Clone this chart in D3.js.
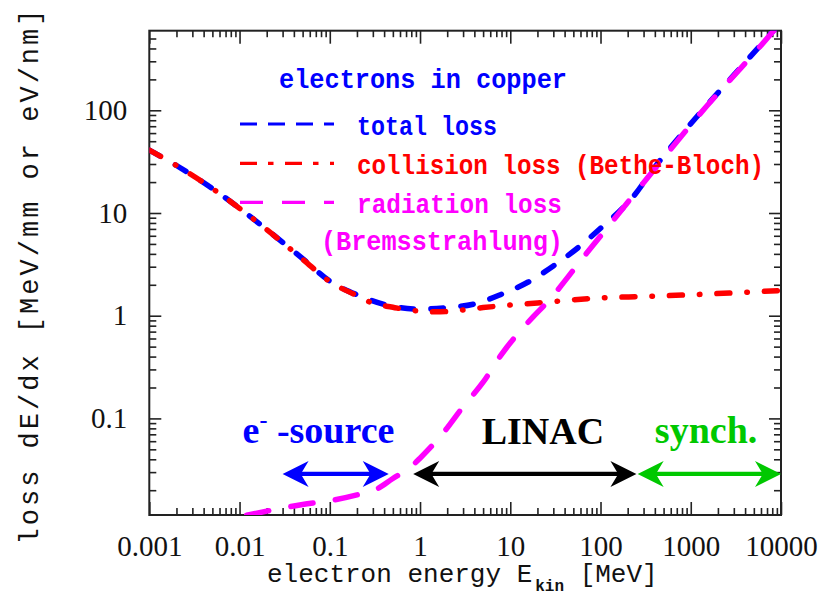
<!DOCTYPE html>
<html>
<head>
<meta charset="utf-8">
<script src="https://cdn.jsdelivr.net/npm/d3@7/dist/d3.min.js"></script>
<style>
  html, body { margin: 0; padding: 0; background: #fff; }
  svg { display: block; }
</style>
</head>
<body>
<svg id="chart" width="819" height="596"></svg>
<script>
// ---------------- data ----------------
const energyTotal = [0.001, 0.002, 0.005, 0.01, 0.02, 0.05, 0.1, 0.2, 0.5, 1, 2, 4, 8, 16, 30, 60, 100, 230, 400, 1000, 3000, 10000];
const lossTotal   = [41, 29, 17.3, 11.1, 6.9, 3.6, 2.17, 1.6, 1.23, 1.16, 1.2, 1.3, 1.62, 2.14, 3.05, 4.8, 7.1, 14.4, 28, 74, 220, 720];

const energyCollision = [0.001, 0.002, 0.005, 0.01, 0.02, 0.05, 0.1, 0.2, 0.3, 0.5, 0.71, 1, 1.5, 2, 5, 10, 20, 50, 100, 300, 1000, 3000, 10000];
const lossCollision   = [41, 29, 17.3, 11.1, 6.9, 3.55, 2.15, 1.57, 1.32, 1.21, 1.14, 1.11, 1.09, 1.1, 1.2, 1.27, 1.33, 1.43, 1.49, 1.54, 1.6, 1.67, 1.76];

const energyRadiation = [0.012, 0.02, 0.05, 0.1, 0.2, 0.33, 0.5, 0.77, 1, 1.8, 3, 5, 8, 18, 25, 70, 137, 400, 1250, 5800, 10000];
const lossRadiation   = [0.0114, 0.0125, 0.0145, 0.0158, 0.018, 0.0205, 0.026, 0.033, 0.041, 0.072, 0.13, 0.225, 0.42, 0.98, 1.32, 4.05, 8.4, 27, 91, 414, 720];

const xTickValues = [0.001, 0.01, 0.1, 1, 10, 100, 1000, 10000];
const xTickLabels = ["0.001", "0.01", "0.1", "1", "10", "100", "1000", "10000"];
const yTickValues = [0.1, 1, 10, 100];
const yTickLabels = ["0.1", "1", "10", "100"];

const legendLabels = ["total loss", "collision loss (Bethe-Bloch)", "radiation loss"];
const legendTitle = "electrons in copper";
const legendExtra = "(Bremsstrahlung)";

// accelerator ranges (energy in MeV) and level of arrows (MeV/mm)
const rangeNames  = ["source", "LINAC", "synch."];
const rangeStart  = [0.03, 0.84, 258];
const rangeEnd    = [0.45, 250, 10000];
const arrowLevel  = 0.0288;
const rangeLabelE = [0.0108, 23, 400];   // label anchor energies
const rangeLabelV = [0.058, 0.056, 0.057]; // label baseline levels

// ---------------- layout ----------------
const svg = d3.select("#chart");
const X0 = 149.3, X1 = 781, Y0 = 30.7, Y1 = 515;

const x = d3.scaleLog().domain([0.001, 10000]).range([X0, X1]);
const y = d3.scaleLog().domain([0.01147, 595.7]).range([Y1, Y0]);

const blue = "#0000ff", red = "#ff0000", magenta = "#ff00ff", green = "#00c800";

// clip
svg.append("defs").append("clipPath").attr("id", "plotclip")
  .append("rect").attr("x", X0).attr("y", Y0).attr("width", X1 - X0).attr("height", Y1 - Y0);

// ---------------- axes ----------------
const xMinor = [];
for (let d = -3; d < 4; d++) for (let m = 2; m <= 9; m++) xMinor.push(m * Math.pow(10, d));
const yMinor = [];
for (let d = -2; d < 3; d++) for (let m = 2; m <= 9; m++) {
  const v = m * Math.pow(10, d);
  if (v > 0.01147 && v < 595.7) yMinor.push(v);
}

const axisColor = "#222";
function styleAxis(g) {
  g.select(".domain").remove();
  g.selectAll(".tick line").attr("stroke", axisColor).attr("stroke-width", 1.6);
}

// bottom
svg.append("g").attr("transform", `translate(0,${Y1})`)
  .call(d3.axisBottom(x).tickValues(xMinor).tickSizeInner(-7).tickSizeOuter(0).tickFormat(""))
  .call(styleAxis);
const xb = svg.append("g").attr("transform", `translate(0,${Y1})`)
  .call(d3.axisBottom(x).tickValues(xTickValues).tickSizeInner(-13).tickSizeOuter(0).tickPadding(20)
    .tickFormat((d, i) => xTickLabels[i]))
  .call(styleAxis);
xb.selectAll("text").attr("font-family", "'Liberation Serif', 'DejaVu Serif', serif")
  .attr("font-size", 29).attr("fill", "#111");

// top
svg.append("g").attr("transform", `translate(0,${Y0})`)
  .call(d3.axisTop(x).tickValues(xMinor).tickSizeInner(-6.5).tickSizeOuter(0).tickFormat(""))
  .call(styleAxis);
svg.append("g").attr("transform", `translate(0,${Y0})`)
  .call(d3.axisTop(x).tickValues(xTickValues).tickSizeInner(-13).tickSizeOuter(0).tickFormat(""))
  .call(styleAxis);

// left
svg.append("g").attr("transform", `translate(${X0},0)`)
  .call(d3.axisLeft(y).tickValues(yMinor).tickSizeInner(-7).tickSizeOuter(0).tickFormat(""))
  .call(styleAxis);
const yl = svg.append("g").attr("transform", `translate(${X0},0)`)
  .call(d3.axisLeft(y).tickValues(yTickValues).tickSizeInner(-12).tickSizeOuter(0).tickPadding(22)
    .tickFormat((d, i) => yTickLabels[i]))
  .call(styleAxis);
yl.selectAll("text").attr("font-family", "'Liberation Serif', 'DejaVu Serif', serif")
  .attr("font-size", 29).attr("fill", "#111");

// right
svg.append("g").attr("transform", `translate(${X1},0)`)
  .call(d3.axisRight(y).tickValues(yMinor).tickSizeInner(-7).tickSizeOuter(0).tickFormat(""))
  .call(styleAxis);
svg.append("g").attr("transform", `translate(${X1},0)`)
  .call(d3.axisRight(y).tickValues(yTickValues).tickSizeInner(-12).tickSizeOuter(0).tickFormat(""))
  .call(styleAxis);

// frame
svg.append("rect").attr("x", X0).attr("y", Y0).attr("width", X1 - X0).attr("height", Y1 - Y0)
  .attr("fill", "none").attr("stroke", axisColor).attr("stroke-width", 2);

// ---------------- axis titles ----------------
const mono = "'Liberation Mono', 'DejaVu Sans Mono', monospace";
const xt = svg.append("text").attr("x", 267).attr("y", 582)
  .attr("font-family", mono).attr("font-size", 26).attr("fill", "#111");
xt.append("tspan").text("electron energy E");
xt.append("tspan").attr("dy", 9).attr("dx", 3).attr("font-size", 16).attr("font-weight", "bold").text("kin");
xt.append("tspan").attr("dy", -9).text(" [MeV]");

svg.append("text")
  .attr("transform", "translate(38,277) rotate(-90)")
  .attr("text-anchor", "middle")
  .attr("font-family", mono).attr("font-size", 27).attr("fill", "#111")
  .attr("textLength", 535).attr("lengthAdjust", "spacing")
  .text("loss dE/dx [MeV/mm or eV/nm]");

// ---------------- curves ----------------
const line = d3.line().x(d => x(d[0])).y(d => y(d[1])).curve(d3.curveMonotoneX);
const plot = svg.append("g").attr("clip-path", "url(#plotclip)");

function zip(a, b) { return a.map((v, i) => [v, b[i]]); }

plot.append("path").datum(zip(energyTotal, lossTotal))
  .attr("d", line).attr("fill", "none").attr("stroke", blue).attr("stroke-width", 5.5)
  .attr("stroke-linecap", "round").attr("stroke-dasharray", "12.5 17.5");
plot.append("path").datum(zip(energyCollision, lossCollision))
  .attr("d", line).attr("fill", "none").attr("stroke", red).attr("stroke-width", 5.5)
  .attr("stroke-linecap", "round").attr("stroke-dasharray", "13 17 0.5 17");
plot.append("path").datum(zip(energyRadiation, lossRadiation))
  .attr("d", line).attr("fill", "none").attr("stroke", magenta).attr("stroke-width", 5.5)
  .attr("stroke-linecap", "round").attr("stroke-dasharray", "22.5 22.5");

// ---------------- legend ----------------
svg.append("text").attr("x", 279).attr("y", 88)
  .attr("font-family", mono).attr("font-weight", "bold").attr("font-size", 27).attr("fill", blue)
  .attr("textLength", 288).attr("lengthAdjust", "spacingAndGlyphs").text(legendTitle);

const legY = [124, 163.3, 202.3];
const legBase = [135, 174, 213];
const legColors = [blue, red, magenta];
const legDash = ["17 11", "17 11 5.5 11.5", "23 19"];
const legLen = [140, 407, 205];
legendLabels.forEach((lab, i) => {
  svg.append("line").attr("x1", 240).attr("x2", 334).attr("y1", legY[i]).attr("y2", legY[i])
    .attr("stroke", legColors[i]).attr("stroke-width", 3.2).attr("stroke-dasharray", legDash[i]);
  svg.append("text").attr("x", 357).attr("y", legBase[i])
    .attr("font-family", mono).attr("font-weight", "bold").attr("font-size", 27).attr("fill", legColors[i])
    .attr("textLength", legLen[i]).attr("lengthAdjust", "spacingAndGlyphs").text(lab);
});
svg.append("text").attr("x", 321).attr("y", 250)
  .attr("font-family", mono).attr("font-weight", "bold").attr("font-size", 27).attr("fill", magenta)
  .attr("textLength", 242).attr("lengthAdjust", "spacingAndGlyphs").text(legendExtra);

// ---------------- range arrows ----------------
const arrowColors = [blue, "#000000", green];
const ay = y(arrowLevel);
const HL = 26, HW = 13, NOTCH = 0.7;
function head(xt, dir, color) {
  const bx = xt - dir * HL, nx = xt - dir * HL * NOTCH;
  svg.append("path")
    .attr("d", `M${xt},${ay} L${bx},${ay - HW} L${nx},${ay} L${bx},${ay + HW} Z`)
    .attr("fill", color);
}
rangeStart.forEach((s, i) => {
  const xa = x(s), xb2 = x(rangeEnd[i]);
  svg.append("line").attr("x1", xa + HL * 0.6).attr("x2", xb2 - HL * 0.6)
    .attr("y1", ay).attr("y2", ay).attr("stroke", arrowColors[i]).attr("stroke-width", 4.2);
  head(xa, -1, arrowColors[i]);
  head(xb2, 1, arrowColors[i]);
});

const serif = "'Liberation Serif', 'Times New Roman', serif";
const st = svg.append("text").attr("x", x(rangeLabelE[0])).attr("y", y(rangeLabelV[0]))
  .attr("font-family", serif).attr("font-weight", "bold").attr("font-size", 38).attr("fill", blue);
st.append("tspan").text("e");
st.append("tspan").attr("dy", -15).attr("font-size", 24).text("-");
st.append("tspan").attr("dy", 15).text(" -source");

svg.append("text").attr("x", x(rangeLabelE[1])).attr("y", y(rangeLabelV[1]))
  .attr("text-anchor", "middle")
  .attr("font-family", serif).attr("font-weight", "bold").attr("font-size", 38).attr("fill", "#000")
  .text(rangeNames[1]);
svg.append("text").attr("x", x(rangeLabelE[2])).attr("y", y(rangeLabelV[2]))
  .attr("text-anchor", "start")
  .attr("font-family", serif).attr("font-weight", "bold").attr("font-size", 38).attr("fill", green)
  .text(rangeNames[2]);
</script>
</body>
</html>
